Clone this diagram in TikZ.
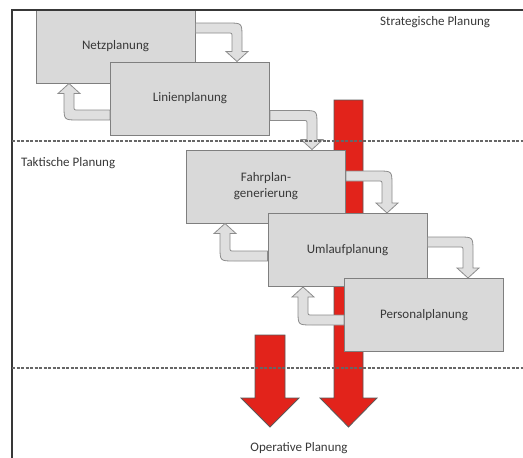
\documentclass[tikz,border=0pt]{standalone}
\usepackage{fontspec}
\setmainfont{Carlito}
\usepackage{tikz}
\usetikzlibrary{calc}
\usetikzlibrary{positioning}

\definecolor{boxgray}{HTML}{D9D9D9}
\definecolor{linegray}{HTML}{7F7F7F}
\definecolor{textgray}{HTML}{383838}
\definecolor{planred}{HTML}{E2231B}

% grey block arrow: right, then down onto the next box
\newcommand{\fwdflow}[2]{%
  \filldraw[flow] let \p1=#1, \p2=#2 in
    (\x1,\y1+5pt) -- (\x2-9pt,\y1+5pt) .. controls (\x2+5pt,\y1+5pt) .. (\x2+5pt,\y1-9pt)
    -- (\x2+5pt,\y2+10pt) -- (\x2+11pt,\y2+10pt) -- (\x2,\y2) -- (\x2-11pt,\y2+10pt)
    -- (\x2-5pt,\y2+10pt) -- (\x2-5pt,\y1-9pt) .. controls (\x2-5pt,\y1-5pt) .. (\x2-9pt,\y1-5pt)
    -- (\x1,\y1-5pt) -- cycle;}
% grey block arrow: left, then up back to the box before
\newcommand{\backflow}[2]{%
  \filldraw[flow] let \p1=#1, \p2=#2 in
    (\x1,\y1-5pt) -- (\x2+9pt,\y1-5pt) .. controls (\x2-5pt,\y1-5pt) .. (\x2-5pt,\y1+9pt)
    -- (\x2-5pt,\y2-10pt) -- (\x2-11pt,\y2-10pt) -- (\x2,\y2) -- (\x2+11pt,\y2-10pt)
    -- (\x2+5pt,\y2-10pt) -- (\x2+5pt,\y1+9pt) .. controls (\x2+5pt,\y1+5pt) .. (\x2+9pt,\y1+5pt)
    -- (\x1,\y1+5pt) -- cycle;}

\begin{document}
\begin{tikzpicture}[x=1pt, y=-1pt,
    planbox/.style={draw=linegray, fill=boxgray, line width=1pt, minimum width=159pt,
      minimum height=73pt, inner sep=0pt, align=center, text=textgray,
      font=\fontsize{13}{16}\selectfont},
    lbl/.style={text=textgray, inner sep=0pt, font=\fontsize{13}{16}\selectfont},
    flow/.style={draw=linegray!90, fill=boxgray!85, line width=0.8pt},
    redarr/.style={draw=black!65, fill=planred, line width=0.8pt},
    frame/.style={draw=textgray, line width=1.2pt},
    sep/.style={draw=black!60, line width=1.3pt, dash pattern=on 3pt off 1.5pt}]
  \useasboundingbox (0,0) rectangle (523,458);

  % red arrows behind the boxes
  \filldraw[redarr] (334,100) -- (363,100) -- (363,398) -- (377,398) -- (348.5,427)
    -- (320,398) -- (334,398) -- cycle;
  \filldraw[redarr] (255,335) -- (285,335) -- (285,398) -- (299,398) -- (270,427)
    -- (241,398) -- (255,398) -- cycle;

  \node[planbox] (netz) at (115.5,46.5) {Netzplanung};
  \node[planbox] (linien) at (190,98.5) {Linienplanung};
  \node[planbox] (fahrplan) at (266,186.5) {Fahrplan-\\generierung};
  \node[planbox] (umlauf) at (347.5,250) {Umlaufplanung};
  \node[planbox] (personal) at (424,315) {Personalplanung};

  \fwdflow{($(netz.north east)+(0,18.5)$)}{($(linien.north)+(47,0)$)}
  \fwdflow{($(linien.east)+(0,17)$)}{($(fahrplan.north)+(46,0)$)}
  \fwdflow{($(fahrplan.east)+(0,-10.5)$)}{($(umlauf.north)+(39.5,0)$)}
  \fwdflow{($(umlauf.east)+(0,-8)$)}{($(personal.north)+(44,0)$)}

  \backflow{($(linien.west)+(0,16.5)$)}{($(netz.south)+(-46.5,0)$)}
  \backflow{($(umlauf.west)+(0,6)$)}{($(fahrplan.south)+(-41,0)$)}
  \backflow{($(personal.west)+(0,5)$)}{($(umlauf.south)+(-44.5,0)$)}

  \draw[frame] (12,458) -- (12,10) -- (523,10);
  \draw[sep] (12,141) -- (523,141);
  \draw[sep] (12,368) -- (523,368);

  \node[lbl, anchor=west] (strat) at (380,22) {Strategische Planung};
  \node[lbl, anchor=west] (takt) at (21,163) {Taktische Planung};
  \node[lbl] (oper) at (299,448) {Operative Planung};
\end{tikzpicture}
\end{document}
